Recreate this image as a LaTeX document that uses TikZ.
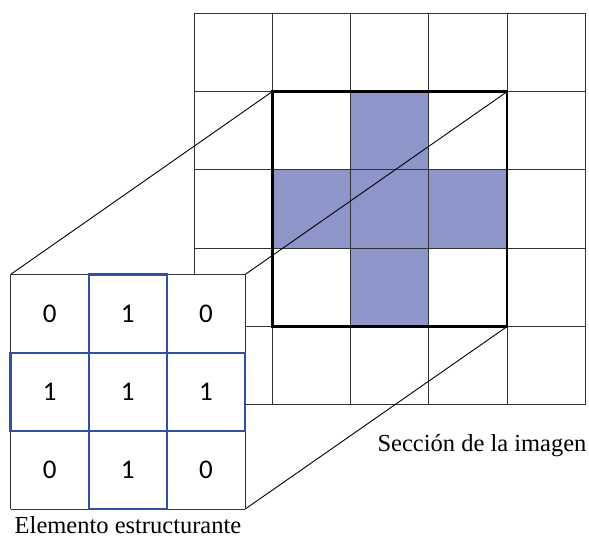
\documentclass[tikz,border=0pt]{standalone}
\usepackage{fontspec}
\setmainfont{Liberation Serif}
\newfontfamily\numfont{Carlito}
\definecolor{crossfill}{HTML}{8E95C9}
\definecolor{selblue}{HTML}{2F4FA3}
\definecolor{gridgray}{HTML}{333333}
\begin{document}
\begin{tikzpicture}[x=1pt,y=-1pt,
  gridline/.style={draw=gridgray,line width=1pt},
  thickframe/.style={draw=black,line width=2.4pt},
  selcell/.style={draw=selblue,line width=2.4pt},
  connector/.style={draw=black,line width=0.9pt},
  numlabel/.style={font=\numfont\fontsize{27}{32}\selectfont},
  caption/.style={font=\fontsize{24.5}{28}\selectfont}]
\useasboundingbox (0,0) rectangle (589,538);
% big image grid
\def\bx{194}\def\by{13.3}\def\bc{78.3}
\foreach \i/\j in {1/0,0/1,1/1,2/1,1/2}{
  \fill[crossfill] ({\bx+\bc*(\i+1)},{\by+\bc*(\j+1)}) rectangle ++(\bc,\bc);
}
\foreach \k in {0,...,5}{
  \draw[gridline] ({\bx+\bc*\k},\by) -- ({\bx+\bc*\k},{\by+5*\bc});
  \draw[gridline] (\bx,{\by+\bc*\k}) -- ({\bx+5*\bc},{\by+\bc*\k});
}
\draw[thickframe] ({\bx+\bc},{\by+\bc}) rectangle ({\bx+4*\bc},{\by+4*\bc});
\coordinate (btl) at ({\bx+\bc},{\by+\bc});
\coordinate (btr) at ({\bx+4*\bc},{\by+\bc});
\coordinate (bbr) at ({\bx+4*\bc},{\by+4*\bc});
% small grid corners
\def\sx{10.5}\def\sy{274.5}\def\sc{78.2}
\coordinate (stl) at (\sx,\sy);
\coordinate (str) at ({\sx+3*\sc},\sy);
\coordinate (sbr) at ({\sx+3*\sc},{\sy+3*\sc});
% connectors
\draw[connector] (stl) -- (btl);
\draw[connector] (str) -- (btr);
\draw[connector] (sbr) -- (bbr);
% structuring element
\fill[white] (stl) rectangle (sbr);
\foreach \k in {0,...,3}{
  \draw[gridline] ({\sx+\sc*\k},\sy) -- ({\sx+\sc*\k},{\sy+3*\sc});
  \draw[gridline] (\sx,{\sy+\sc*\k}) -- ({\sx+3*\sc},{\sy+\sc*\k});
}
\foreach \i/\j in {1/0,0/1,2/1,1/2}{
  \draw[selcell] ({\sx+\sc*\i},{\sy+\sc*\j}) rectangle ++(\sc,\sc);
}
\foreach \i/\j/\v in {0/0/0,1/0/1,2/0/0,0/1/1,1/1/1,2/1/1,0/2/0,1/2/1,2/2/0}{
  \node[numlabel] (n\i\j) at ({\sx+\sc*(\i+0.5)},{\sy+\sc*(\j+0.5)}) {\v};
}
% captions
\node[caption] (capimg) at (482,446) {Sección de la imagen};
\node[caption] (capel) at (128,525) {Elemento estructurante};
\end{tikzpicture}
\end{document}
